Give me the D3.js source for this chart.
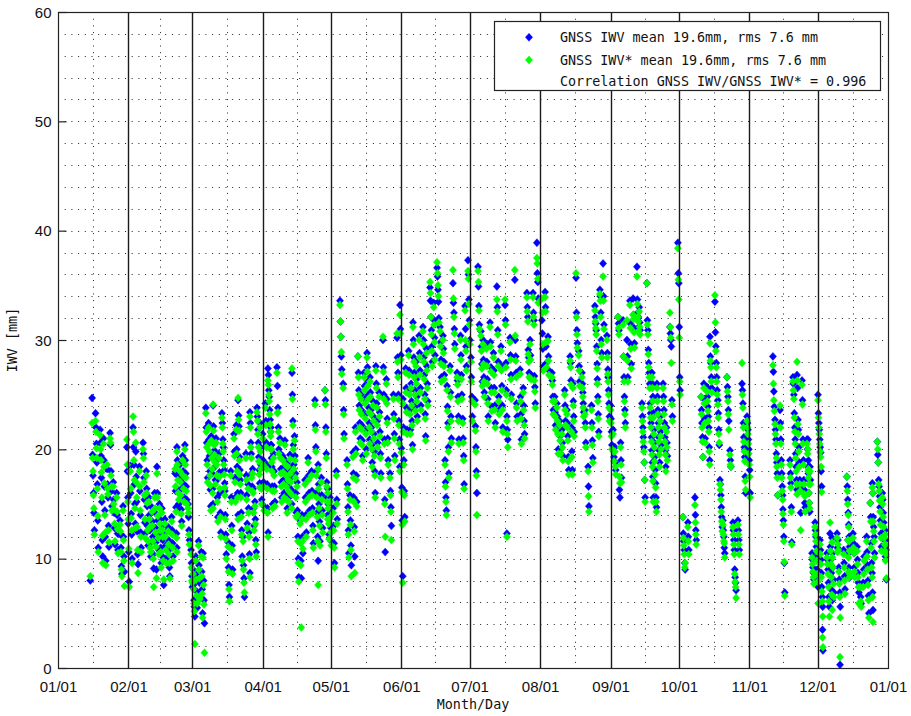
<!DOCTYPE html>
<html>
<head>
<meta charset="utf-8">
<script src="https://cdn.jsdelivr.net/npm/d3@7"></script>
<style>
  html, body { margin: 0; padding: 0; background: #fff; }
  svg { display: block; }
  .tick-label { font-family: "Liberation Sans", Arial, sans-serif; font-size: 15px; fill: #111; }
  .mono { font-family: "DejaVu Sans Mono", "Liberation Mono", monospace; font-size: 13.4px; fill: #111; }
</style>
</head>
<body>
<svg id="chart" width="911" height="716"></svg>
<script>
// Start of each run of consecutive epochs, as day of year (0 = Jan 1)
const obsDay = [
  14.2, 15.0, 16.5, 18.5, 20.0, 21.6, 22.9, 24.3, 25.8, 27.3, 28.6, 30.3,
  31.8, 33.0, 34.2, 35.8, 37.4, 38.8, 40.0, 41.3, 42.5, 43.5, 44.6, 45.7, 47.0, 48.4, 50.0, 51.5, 52.3, 53.6, 54.8, 55.8, 57.2,
  58.5, 59.4, 60.6, 61.8, 63.0, 63.8, 65.0, 66.2, 67.4, 68.2, 69.5, 70.8, 72.1, 73.4, 74.8, 76.0, 77.4, 78.4, 79.2, 80.4, 81.4, 82.6, 83.6, 84.4, 85.6, 86.6, 87.5, 88.8, 90.0,
  91.2, 92.3, 93.6, 94.8, 96.3, 97.6, 98.8, 99.8, 101.0, 102.0, 102.9, 104.0, 105.1, 106.4, 107.3, 108.6, 110.0, 111.5, 113.0, 114.4, 115.8, 117.4, 118.6, 119.6,
  121.0, 122.4, 124.0, 125.4, 127.1, 128.4, 129.7, 130.8, 131.9, 133.2, 134.6, 135.9, 137.2, 138.5, 139.8, 141.2, 142.9, 144.4, 146.0, 147.5, 149.1, 150.4,
  151.7, 152.9, 154.2, 155.3, 156.1, 157.4, 158.8, 160.5, 162.0, 163.6, 165.2, 166.7, 168.0, 169.3, 170.2, 171.1, 172.4, 173.7, 175.5, 177.0, 178.0, 179.0, 180.3,
  181.6, 183.4, 184.7, 186.0, 186.9, 188.4, 190.0, 191.5, 193.0, 194.8, 196.6, 197.4, 198.8, 200.9, 203.2, 204.6, 206.2, 207.6, 208.9, 210.6,
  212.8, 214.2, 215.5, 217.2, 218.4, 219.4, 220.6, 221.6, 222.8, 223.8, 225.2, 226.4, 227.8, 229.0, 230.4, 231.7, 233.1, 234.6, 236.1, 237.2, 238.3, 239.7, 241.4, 241.9,
  243.0, 244.1, 244.9, 246.3, 247.4, 248.5, 250.2, 251.5, 252.9, 254.6, 255.6, 256.8, 259.0, 261.2, 263.4, 264.8, 266.1, 267.6, 269.1, 270.0,
  272.6, 274.8, 277.0, 280.1, 282.8, 284.0, 285.4, 286.7, 288.9, 290.2, 291.1, 292.4, 294.2, 295.5, 296.8, 299.0, 300.8, 303.0,
  314.4, 315.3, 317.5, 318.8, 321.9, 323.2, 325.0, 327.2, 329.4, 329.8, 330.7,
  331.6, 332.9, 334.2, 335.1, 336.2, 338.2, 339.5, 340.4, 342.6, 343.0, 343.9, 345.5, 346.9, 347.4, 349.6, 351.4, 352.8, 354.1, 355.6, 357.2, 358.1, 360.3, 362.5, 363.7
];

// Sampling interval between consecutive epochs of a run, in days
const epochStep = 0.2;

// GNSS IWV [mm], one list per run
const iwv = [
  [8.0], [24.7,19.5,17.6,16.0,14.2,12.6], [23.3,22.0,20.5,18.8,16.8,13.5,11.0], [21.8,20.6,19.4,17.4,15.2,11.7,10.2], [21.0,19.0,16.6,14.4,12.0,9.8], [18.2,16.8,15.6,13.0,11.1], [21.5,20.4,18.0,16.2,14.8], [17.0,15.4,14.2,12.8,11.3], [16.0,14.0,12.3,10.8], [13.5,12.2,11.0,9.3,8.6], [14.8,12.0,10.2,8.8], [20.2,18.0,15.6,13.2,10.6,7.9],
  [18.5,16.0,14.1,12.2,10.0], [22.0,20.2,18.6,16.8,15.0,13.2], [19.8,17.5,15.2,12.5,10.4,9.5], [18.4,16.2,14.0,12.4,11.0], [20.6,19.6,17.4,15.4,13.3,12.3], [18.0,16.4,14.8,13.0,11.2], [15.6,14.0,12.6,11.4,10.2], [14.7,13.4,12.0,10.4,9.1], [16.0,14.2,12.8,11.5,9.0], [18.4,16.0,13.5,12.3,10.8], [15.0,13.6,12.2,11.0,9.6], [14.6,13.0,11.7,10.1,7.6], [13.6,12.4,11.2,10.0], [12.9,11.7,10.8,9.2,8.4], [13.8,12.6,11.4,10.2], [17.8,16.2,14.7,12.3,11.0], [20.2,19.0,17.6,16.3,15.0], [18.6,17.2,16.3,14.5,13.4], [19.4,18.0,16.8,15.6], [20.4,19.0,17.8,16.6,15.4], [15.0,13.8,12.6,11.7],
  [10.8,9.6,8.4,7.4], [9.0,7.6,6.2,5.6,4.7], [10.2,8.5,7.0,5.5], [11.6,9.4,7.8,6.6], [10.6,8.8,7.2,5.0], [10.5,8.0,6.2,4.1], [23.8,22.0,20.6,19.0,17.4], [22.4,20.9,19.4,18.0,16.3,14.8], [21.2,19.6,17.8,16.4,15.0], [24.0,22.1,20.8,19.9,18.4,17.2], [21.0,19.0,17.2,15.6,13.8], [19.6,17.9,16.0,14.2,12.4], [23.3,22.4,20.9,20.2,19.0,18.1,16.9], [16.2,14.0,12.2,10.4], [11.5,9.2,7.6,6.5], [18.0,15.6,13.0,11.2,9.0], [21.4,19.8,17.4,15.6], [22.2,20.0,18.4,16.0,14.0], [24.5,23.1,22.1,19.3,18.1,17.2], [16.0,14.2,12.6,10.2], [12.0,9.4,8.2,6.5], [19.6,17.6,15.8,13.2], [16.8,14.6,12.4,10.4,8.7], [23.4,22.4,20.6,19.6,17.8,16.6], [18.2,16.4,14.6,13.0], [15.2,13.6,11.7,10.6], [23.8,23.0,21.8,20.6,19.3,18.1,16.9], [22.4,20.2,18.6,16.8,15.4], [21.4,19.0,17.0,14.8],
  [24.2,22.6,20.6,18.6,16.8,14.6,12.4], [27.4,26.8,25.4,24.8,23.6,22.7,21.6,20.4,19.2], [22.0,20.4,18.4,16.6,15.0], [19.6,18.0,16.6,15.2], [27.5,25.8,23.8,22.0,20.0], [21.0,19.6,18.2,17.0,15.6], [19.4,18.3,17.2,16.0], [20.8,19.0,18.0,17.0,15.8,14.6], [18.8,17.6,16.6,15.6], [19.5,18.2,17.4,16.3,15.0], [27.0,25.0,22.6,20.4,18.6], [21.2,19.4,17.8,16.0,14.2], [17.0,14.4,12.0,10.0,8.3], [13.6,11.8,9.8,8.2], [14.0,12.0,10.5], [17.2,15.6,14.0,12.4], [19.2,17.6,16.0,14.4], [18.0,16.2,14.6,13.0,11.4], [24.5,22.2,20.2,18.0,16.0,14.2,12.0,9.8], [18.6,16.8,15.0,13.4,11.6], [17.4,15.8,14.4,12.8], [25.4,24.5,22.0,19.6,17.0,15.6,14.0], [16.4,15.0,13.6,12.2], [15.6,14.2,12.8,11.6],
  [14.6,13.0,11.4,9.6], [18.0,15.4,13.6], [33.6,31.7,30.3,28.5,27.3], [26.0,23.6,21.4], [19.0,16.8,14.7,12.6,10.5], [15.8,13.5,11.2,9.4], [19.7,17.8,15.6,12.9,10.2], [22.0,20.0,17.6,15.2], [28.5,27.0,25.4,24.0,22.4,21.0], [25.0,23.6,22.2,20.8,19.4], [27.0,25.8,24.6,23.2,21.8,20.0], [28.8,27.5,26.2,25.0,23.8,22.4,20.9], [26.6,25.2,23.6,22.0,20.4,18.8], [24.4,23.0,21.4,19.8,18.0,16.0], [27.6,26.0,24.2,22.6,20.6], [25.2,23.4,21.6,19.6,17.8], [30.0,27.5,25.0,20.9,15.4,10.6], [26.4,24.6,22.8,21.0,19.0], [17.8,16.2,14.7,13.0], [25.0,23.2,21.4,19.4], [30.2,28.4,27.0,25.0,22.6,20.9,18.4], [33.2,31.0,28.6,20.1,16.5,13.5,8.4],
  [24.6,22.0,19.0,16.2,13.8], [27.4,25.6,23.8,21.8], [29.0,27.2,25.4,23.6,21.8], [26.0,24.4,22.6,20.4], [31.6,30.0,28.4,27.0,25.4,23.9], [28.0,26.4,24.8,23.0], [30.4,28.8,27.2,25.6,24.0], [31.2,30.0,28.4,26.8,25.0,23.2,21.2], [29.2,27.6,26.0,24.4], [34.8,33.6,32.1,30.9,29.4,28.0], [33.4,31.8,30.2,28.6], [36.6,35.8,34.6,33.5,32.0], [31.2,29.8,28.2,26.6], [30.4,29.2,28.0,26.8], [19.0,17.0,15.6,14.4], [25.8,23.9,22.4,20.2,17.8], [27.6,25.2,23.0,21.0], [35.2,33.4,32.5,31.0,29.6], [27.0,26.3,24.8,23.0,20.9], [30.4,28.6,26.8,25.0], [22.8,21.0,19.4,16.8], [33.1,31.0,29.4,27.6], [37.3,36.0,33.7,31.8,30.0],
  [28.4,26.6,24.8,23.0], [24.5,22.1,20.2,18.0,16.0], [36.7,34.9,33.1,31.4], [30.8,29.4,27.8,26.2], [30.0,28.2,26.6,25.2], [29.6,28.0,26.4,24.6,23.0], [31.6,29.8,27.5,25.6,23.9], [28.8,27.2,25.6,24.0,22.4], [34.9,33.0,30.9,28.0,24.8,23.6], [29.4,27.6,25.8,24.0,22.0], [33.2,31.8,27.9,25.4,23.0,21.8,20.9], [12.3], [30.2,28.6,26.8,25.0], [35.5,30.0,28.5,27.0,24.2,23.0], [27.3,24.8,23.2,20.9], [25.6,24.0,22.6,21.4], [34.3,33.0,32.1,29.1,28.4,27.0], [30.0,28.6,26.8], [34.3,32.5,31.8,26.7,25.7,24.2], [38.9,36.1,35.3,33.8],
  [31.8,30.6,29.2,27.6], [34.4,33.0,29.4,27.9], [30.3,28.5,27.2], [27.0,26.3,24.8,23.6], [24.8,23.4,22.2], [24.2,23.0,21.8,20.0], [22.6,21.2,20.0], [21.8,20.6,19.4], [25.4,24.0,22.6], [23.6,22.4,21.2,19.3,18.1], [28.5,27.9,26.3,22.0,19.8,18.1], [26.0,24.4,23.0,21.6], [35.7,32.5,30.9,29.7], [29.0,27.6,26.2], [27.0,26.0,25.2,24.2,23.4], [23.6,22.4,20.6], [18.4,16.6,14.8], [24.0,22.4,20.8,19.2], [33.1,32.1,31.5,30.9,29.4,27.8], [26.4,24.8,23.2,21.6], [34.6,34.0,32.5,30.0,28.8], [37.0,34.0,31.4], [30.4,28.8,27.3], [26.6,25.4,24.2,23.0],
  [24.0,22.8,21.6,20.4], [21.8,20.2,19.3], [20.2,18.8,18.1], [32.1,31.5,30.9,16.3,15.6], [20.6,19.0,17.4], [31.8,28.5,26.6,24.8,23.6,22.4], [30.0,28.5,26.6], [33.6,31.5,29.6,27.8], [33.8,32.3,31.1,29.7], [36.7,33.7,32.5,32.1,31.2], [33.0,31.6,30.9], [24.2,23.0,22.0,21.1,20.2,18.8,17.2,15.6], [35.2,31.8,30.9,29.1,27.9,27.0,26.0,24.2,23.3,22.4,21.1,19.9,18.8,17.5,15.6], [27.0,26.0,24.8,23.3,21.8,20.6,19.3,18.1,16.9,15.6,14.7], [26.0,24.8,23.6,22.4,21.1,19.9,18.8], [23.0,21.6,20.4], [26.0,24.8,23.6,22.4,21.1,19.9,18.4], [22.0,20.6,19.4], [31.2,30.6,30.0,29.4], [24.5,23.0],
  [38.9,36.1,35.2,31.2,26.6,25.4], [13.8,12.3,11.6,10.8,9.6,9.0], [13.3,12.0,10.8], [15.6,14.0,12.6,11.7], [24.8,23.6,22.4,21.1,19.3], [26.0,24.6,22.8,21.0], [25.7,24.8,23.9,23.0,22.0,20.2,19.0], [30.3,28.5,27.9,26.6,25.6], [33.5,30.7,29.4,27.9,26.6,25.4], [24.5,23.3,21.8,20.4], [17.2,16.8,15.8,14.7,13.8,12.9], [13.5,12.6,12.0,11.0,10.5], [26.6,25.7,24.8,23.6,22.6], [19.9,19.0,18.4], [13.3,12.6,11.7,10.8,9.0,8.3,7.8,7.1], [13.5,12.6,11.7,10.8], [26.0,25.4,24.2,22.4,21.1,20.2,19.3,17.5,16.0], [23.0,22.4,21.8,20.9,20.0,19.0,18.1,16.0],
  [28.5,27.1,25.3,23.9], [22.7,21.8,20.9,19.6,18.8,17.8,15.8], [23.6,22.4,20.9,19.0,17.8,16.6,15.8], [14.5,13.5,12.0,9.6,6.9], [19.0,17.8,16.9,14.7,11.5], [26.6,26.0,25.0,23.3,22.0,20.9,19.6,18.4,17.2,16.3], [26.8,25.6,22.7,21.8,20.2,18.8,17.2,16.6,14.2], [26.3,24.5,20.9,19.0,17.2,16.3,15.1,14.7], [20.9,20.0,18.4,17.8,17.2], [20.9,19.0,16.0,15.1,14.3], [18.4,17.2],
  [10.5,9.9,9.2,8.7,8.1], [13.3,12.6,12.0,11.1,10.2,9.0,8.3,7.4], [25.0,23.3,22.4,21.8,20.9,20.2,19.7,18.0,16.6], [11.7,10.8,9.9,8.7,7.4,6.5,5.6], [3.5,1.6], [10.5,9.9,9.0,7.8,6.5,5.6], [12.3,11.1,9.9,8.7,7.1,6.2], [11.9,10.5,9.2,8.1,6.9], [12.3,11.0], [11.7,10.8,9.2,8.1,6.9,5.6], [0.3], [10.8,9.6,8.4,7.2], [17.5,16.6,15.4,14.2,13.1,12.0,11.1], [11.7,10.5,9.2,8.7,8.3], [12.3,11.4,10.5,9.2,8.7], [11.1,9.9,8.7,7.8,6.9], [7.4,6.5,5.9], [7.8,9.0,10.2], [12.0,10.6,9.4,8.0,6.6,5.0], [15.1,13.8,11.4,9.6,8.7,6.9,5.3], [16.9,16.0,13.8,12.9,12.0,10.5], [20.7,19.5,18.8,17.2,16.6,15.7,14.7,13.5,12.3,11.1], [16.0,15.4,14.2,13.3,12.3,11.7,11.1,10.2], [12.6,11.7,10.8,8.1]
];

// GNSS IWV* [mm], one list per run
const iwvStar = [
  [8.4], [22.4,19.2,18.0,15.8,14.6,12.2], [22.6,21.6,20.1,19.2,16.4,13.9,10.6], [21.3,20.0,19.0,17.9,15.6,12.1,9.6], [20.5,18.4,16.9,14.0,12.4,9.4], [18.6,16.4,15.9,12.6,11.5], [21.0,20.6,17.6,16.6,14.4], [16.6,15.0,14.5,13.2,11.6], [15.6,14.3,12.7,10.5], [13.1,12.5,10.6,9.0,8.4], [14.4,11.7,9.8,7.5], [20.9,18.6,15.2,13.6,10.9,7.4],
  [18.0,16.4,13.7,12.6,9.6], [23.0,21.6,19.0,17.2,14.6,12.8], [20.6,17.0,15.6,12.9,10.8,8.7], [18.0,16.6,14.4,12.0,10.6], [20.0,19.2,17.0,15.8,13.6,11.9], [17.6,16.0,15.1,12.6,11.6], [15.2,13.6,12.9,11.0,10.6], [14.3,13.0,11.6,10.0,7.4], [15.6,14.6,12.4,11.1,8.2], [17.8,15.6,13.9,11.9,10.4], [14.6,13.2,12.6,10.6,9.2], [14.2,12.6,12.0,9.8,8.1], [13.2,12.0,10.8,9.6], [12.5,11.3,10.4,9.6,8.2], [13.4,12.2,11.0,9.8], [18.2,16.6,14.3,11.9,10.6], [19.8,18.6,17.2,16.0,15.4], [18.0,17.0,15.8,14.1,13.0], [19.0,17.6,16.4,15.2], [20.0,18.6,17.4,16.2,15.0], [14.6,14.2,12.2,11.3],
  [10.4,9.2,8.0,7.8], [8.6,7.2,5.9,5.2,2.2], [9.8,8.1,6.6,5.9], [11.2,9.0,8.2,6.3], [10.2,8.4,6.8,4.6], [10.1,7.6,5.8,1.4], [23.3,21.6,20.2,18.6,17.0], [22.0,20.5,19.8,17.6,16.7,14.4], [20.8,19.2,18.2,16.0,14.6], [24.1,21.7,20.4,19.5,18.8,16.8], [20.6,18.6,17.6,15.2,13.4], [19.2,17.5,16.4,13.8,12.0], [22.9,22.0,20.5,19.8,18.6,17.7,16.5], [15.8,13.6,11.8,10.0], [11.1,8.8,7.2,6.1], [17.6,15.2,12.6,10.8,8.6], [21.0,19.4,17.0,15.2], [21.8,19.6,18.0,15.6,13.6], [24.7,22.7,21.7,19.0,17.7,16.8], [15.6,13.8,12.2,9.8], [11.6,9.0,7.8,6.9], [19.2,17.2,15.4,12.8], [16.4,14.2,12.0,10.0,8.3], [23.0,22.0,20.2,19.2,17.4,16.2], [17.8,16.0,14.2,12.6], [14.8,13.2,11.3,10.2], [23.4,22.6,21.4,20.2,18.9,17.7,16.5], [22.0,19.8,18.2,16.4,15.0], [21.0,18.6,16.6,14.4],
  [23.8,22.2,20.2,18.2,16.4,14.2,12.0], [26.3,25.9,25.0,24.4,23.2,22.3,21.2,20.0,18.8], [21.6,20.0,18.0,16.2,14.6], [19.2,17.6,16.2,14.8], [27.0,23.3,23.4,21.6,19.6], [20.6,19.2,17.8,16.6,15.2], [19.0,17.9,16.8,15.6], [20.4,18.6,17.6,16.6,15.4,14.2], [18.4,17.2,16.2,15.2], [19.1,17.8,17.0,15.9,14.6], [27.4,24.6,22.2,20.0,18.2], [20.8,19.0,17.4,15.6,13.8], [16.6,14.0,11.6,9.6,7.9], [13.2,11.4,9.4,3.7], [13.6,11.6,10.9], [16.8,15.2,13.6,12.0], [18.8,17.2,15.6,14.0], [17.6,15.8,14.2,12.6,11.0], [24.1,21.8,19.8,17.6,15.6,13.8,11.6,7.6], [18.2,16.4,14.6,13.0,11.2], [17.0,15.4,14.0,12.4], [25.4,24.1,21.6,19.2,16.6,15.2,13.6], [16.0,14.6,13.2,11.8], [15.2,13.8,12.4,11.2],
  [14.2,12.6,11.0,9.2], [17.6,15.0,13.2], [33.2,31.7,30.3,28.9,26.9], [25.6,23.2,21.0], [18.6,16.4,14.3,12.2,10.1], [15.4,13.1,10.8,8.4], [19.3,17.4,15.2,12.5,8.7], [21.6,19.6,17.2,14.8], [28.5,26.6,25.0,23.6,22.0,20.6], [24.6,23.2,21.8,20.4,19.0], [26.6,25.4,24.2,22.8,21.4,19.6], [28.4,27.1,25.8,24.6,23.4,22.0,20.5], [26.2,24.8,23.2,21.6,20.0,18.4], [24.0,22.6,21.0,19.4,17.6,15.6], [27.2,25.6,23.8,22.2,20.2], [24.8,23.0,21.2,19.2,17.4], [30.3,27.1,24.6,20.5,15.0,12.0], [26.0,24.2,22.4,20.6,18.6], [17.4,15.8,14.3,11.7], [24.6,22.8,21.0,19.0], [30.6,28.0,26.6,24.6,22.2,20.5,18.0], [32.3,30.6,28.2,19.7,16.1,13.1,7.8],
  [24.2,21.6,18.6,15.8,13.4], [27.0,25.2,23.4,21.4], [28.6,26.8,25.0,23.2,21.4], [25.6,24.0,22.2,20.0], [31.2,29.6,28.0,26.6,25.0,23.5], [27.6,26.0,24.4,22.6], [30.0,28.4,26.8,25.2,23.6], [30.8,29.6,28.0,26.4,24.6,22.8,20.8], [28.8,27.2,25.6,24.0], [35.3,34.3,32.1,30.5,29.0,27.6], [33.0,31.4,29.8,28.2], [37.1,36.1,35.0,34.0,31.6], [30.8,29.4,27.8,26.2], [30.0,28.8,27.6,26.4], [18.6,16.6,15.2,14.0], [25.4,23.5,22.0,19.8,17.4], [27.2,24.8,22.6,20.6], [36.4,33.8,32.1,30.6,29.2], [26.6,25.9,24.4,22.6,20.5], [30.0,28.2,26.4,24.6], [22.4,20.6,19.0,16.4], [32.7,30.0,29.0,27.2], [36.3,35.6,33.3,31.4,29.6],
  [28.0,26.2,24.4,22.6], [24.1,21.7,19.8,17.6,14.0], [36.3,35.3,32.7,31.0], [30.4,29.0,27.4,25.8], [29.6,27.8,26.2,24.8], [29.2,27.6,26.0,24.2,22.6], [31.2,29.4,27.1,25.2,23.5], [28.4,26.8,25.2,23.6,22.0], [33.7,32.6,30.5,27.6,24.4,23.2], [29.0,27.2,25.4,23.6,21.6], [33.7,31.4,27.5,25.0,22.6,21.4,20.2], [12.0], [29.8,28.2,26.4,24.6], [36.4,30.4,28.1,26.6,23.8,22.6], [26.9,24.4,22.8,20.5], [25.2,23.6,22.2,21.0], [33.9,32.6,31.7,28.7,28.0,26.6], [29.6,28.2,26.4], [33.9,32.1,31.4,26.3,25.3,23.8], [37.5,37.0,35.6,33.4],
  [33.8,32.5,29.6,27.2], [33.9,32.6,29.8,27.5], [29.9,28.1,26.8], [26.6,25.9,24.4,23.2], [24.4,23.0,21.8], [23.8,22.6,21.4,19.6], [22.2,20.8,19.6], [21.4,20.2,19.0], [25.0,23.6,22.2], [23.2,22.0,20.8,18.9,17.7], [28.1,27.5,25.9,21.6,19.3,17.7], [25.6,24.0,22.6,21.2], [36.1,32.1,30.5,29.3], [28.6,27.2,25.8], [26.6,25.6,24.8,23.8,23.0], [23.2,22.0,20.2], [18.0,15.7,14.3], [23.6,22.0,20.4,18.8], [32.7,31.7,31.1,30.5,29.0,27.4], [26.0,24.4,22.8,21.2], [34.2,33.6,32.1,29.6,28.4], [35.8,33.6,31.0], [30.0,28.4,26.9], [26.2,25.0,23.8,22.6],
  [23.6,22.4,21.2,20.0], [21.4,19.8,18.9], [19.8,18.4,17.7], [32.1,31.1,30.5,17.5,16.9], [20.2,18.6,17.0], [31.4,28.5,26.2,24.4,23.2,22.0], [31.8,28.1,26.2], [33.2,31.1,29.2,27.4], [32.3,31.9,30.7,29.3], [35.8,33.3,32.1,31.7,30.8], [32.6,31.2,30.5], [23.8,22.6,21.6,20.7,19.8,18.8,17.2,15.2], [35.2,31.4,30.5,28.7,27.5,26.6,25.6,23.8,22.9,22.0,20.7,19.5,18.4,17.1,15.2], [26.6,25.6,24.4,22.9,21.4,20.2,18.9,17.7,16.5,15.2,14.3], [25.6,24.4,23.2,22.0,20.7,19.5,18.4], [22.6,21.2,20.0], [25.6,24.4,23.2,22.0,20.7,19.5,18.0], [21.6,20.2,19.0], [32.5,31.2,30.2,27.9], [24.1,22.6],
  [38.4,35.5,33.7,30.2,26.2,25.0], [13.8,11.9,11.2,10.4,9.2,9.6], [12.9,11.6,10.4], [14.9,13.3,12.2,11.3], [24.8,23.2,22.0,20.7,19.3], [25.6,24.2,22.4,20.6], [25.3,24.4,23.5,22.6,21.6,19.8,18.6], [29.7,28.1,27.5,26.2,25.2], [34.1,31.6,29.0,27.5,26.2,25.0], [24.1,22.9,21.4,20.6], [16.8,16.3,15.4,14.3,13.4,12.5], [13.1,12.2,11.6,11.4,10.1], [26.6,25.3,24.4,23.2,21.8], [19.5,18.6,18.4], [12.9,12.2,11.3,10.4,8.6,7.9,7.4,6.4], [13.1,12.2,11.3,10.4], [27.9,25.0,23.8,22.0,20.7,19.8,18.9,17.1,16.3], [22.6,22.0,21.4,20.5,19.6,18.6,17.5,15.6],
  [27.7,26.0,24.5,23.5], [22.3,21.4,20.5,19.2,18.4,17.4,15.8], [24.0,22.0,20.5,18.6,17.4,16.2,15.4], [14.1,13.1,11.6,9.7,6.6], [18.6,17.4,16.5,14.3,11.3], [26.2,25.4,24.6,22.9,21.6,20.5,19.2,18.0,16.8,15.9], [28.0,26.3,22.3,21.4,19.8,18.4,16.8,16.2,12.6], [25.9,24.1,20.5,18.6,16.8,15.9,15.7,14.3], [20.5,19.6,18.0,17.4,16.8], [20.0,18.2,16.0,15.1,14.6], [18.0,16.8],
  [10.1,9.5,8.8,8.3,7.7], [12.9,12.2,11.6,10.7,9.8,8.6,7.9,5.9], [24.5,22.9,22.0,21.4,20.5,19.8,19.3,18.4,16.1], [11.3,10.4,9.5,8.3,7.0,6.1,4.7], [2.8,1.9], [10.1,9.5,8.6,7.4,6.1,4.7], [13.3,10.7,9.5,8.3,6.7,5.3], [11.5,10.1,9.2,7.7,6.5], [11.9,10.6], [11.3,10.8,8.8,7.7,6.5,4.6], [1.0], [10.4,9.2,8.0,6.8], [17.5,16.2,15.0,14.0,12.9,11.6,10.7], [11.7,10.1,8.8,8.3,8.6], [11.9,11.0,10.5,8.8,8.3], [10.7,9.5,8.3,7.4,5.9], [7.4,6.1,5.6], [7.4,8.6,9.8], [11.6,10.2,9.0,7.6,6.2,4.6], [15.1,13.4,11.0,9.2,8.3,6.5,4.2], [16.5,16.0,13.4,12.5,11.6,10.1], [20.7,20.0,18.8,16.8,16.2,15.3,14.3,13.1,11.9,10.7], [15.6,15.0,13.8,12.9,11.9,11.3,10.7,9.8], [12.2,11.3,10.4,8.2]
];

const yTicks = [0, 10, 20, 30, 40, 50, 60];
const legendLines = [
  "GNSS IWV mean 19.6mm, rms 7.6 mm",
  "GNSS IWV* mean 19.6mm, rms 7.6 mm",
  "Correlation GNSS IWV/GNSS IWV* = 0.996"
];
const seriesColors = ["#0000ff", "#00ff00"];

const svg = d3.select("#chart");
const plot = { left: 58, right: 888, top: 12, bottom: 668 };

const yearStart = new Date(Date.UTC(2015, 0, 1));
const yearEnd = new Date(Date.UTC(2016, 0, 1));
const x = d3.scaleUtc().domain([yearStart, yearEnd]).range([plot.left, plot.right]);
const y = d3.scaleLinear().domain([0, 60]).range([plot.bottom, plot.top]);

const dayToDate = d => new Date(yearStart.getTime() + d * 86400000);

// flatten each run into timestamped points
function buildPoints(values) {
  const pts = [];
  obsDay.forEach((d, i) => {
    (values[i] || []).forEach((v, k) => pts.push({ t: dayToDate(d + k * epochStep), v }));
  });
  return pts;
}
const bluePts = buildPoints(iwv);
const greenPts = buildPoints(iwvStar);

svg.append("rect").attr("width", 911).attr("height", 716).attr("fill", "#fff");

const monthTicks = d3.utcMonth.range(yearStart, d3.utcDay.offset(yearEnd, 1));
const midTicks = d3.pairs(monthTicks).map(([a, b]) => new Date((a.getTime() + b.getTime()) / 2));

const grid = svg.append("g");
// dotted horizontal grid every 2 mm
grid.selectAll("line.hg")
  .data(d3.range(2, 60, 2))
  .join("line")
  .attr("x1", plot.left).attr("x2", plot.right)
  .attr("y1", d => Math.round(y(d)) + 0.5).attr("y2", d => Math.round(y(d)) + 0.5)
  .attr("stroke", "#222").attr("stroke-width", 1)
  .attr("stroke-dasharray", "1,5.7");
// dotted vertical grid halfway through each month
grid.selectAll("line.vg")
  .data(midTicks)
  .join("line")
  .attr("x1", d => Math.round(x(d)) + 0.5).attr("x2", d => Math.round(x(d)) + 0.5)
  .attr("y1", plot.top).attr("y2", plot.bottom)
  .attr("stroke", "#222").attr("stroke-width", 1)
  .attr("stroke-dasharray", "1,5.7");

// diamond marker
const diamond = "M0,-4L3.6,0L0,4L-3.6,0Z";

function drawSeries(points, color) {
  svg.append("g")
    .selectAll("path")
    .data(points)
    .join("path")
    .attr("d", diamond)
    .attr("transform", p => `translate(${x(p.t)},${y(p.v)})`)
    .attr("fill", color)
    .attr("stroke", color)
    .attr("stroke-opacity", 0.55)
    .attr("stroke-width", 0.8);
}
drawSeries(bluePts, seriesColors[0]);
drawSeries(greenPts, seriesColors[1]);

// solid month separators
svg.append("g")
  .selectAll("line")
  .data(monthTicks.slice(1, -1))
  .join("line")
  .attr("x1", d => Math.round(x(d)) + 0.5).attr("x2", d => Math.round(x(d)) + 0.5)
  .attr("y1", plot.top).attr("y2", plot.bottom)
  .attr("stroke", "#1a1a1a").attr("stroke-width", 1.4);

// frame
svg.append("rect")
  .attr("x", plot.left + 0.5).attr("y", plot.top + 0.5)
  .attr("width", plot.right - plot.left).attr("height", plot.bottom - plot.top)
  .attr("fill", "none").attr("stroke", "#222").attr("stroke-width", 1.2);

// y axis
const yAxis = d3.axisLeft(y).tickValues(yTicks).tickSize(-8).tickPadding(16).tickFormat(d3.format("d"));
const yg = svg.append("g").attr("transform", `translate(${plot.left + 0.5},0)`).call(yAxis);
yg.select(".domain").remove();
yg.selectAll(".tick line").attr("stroke", "#222").attr("stroke-width", 1.2);
yg.selectAll(".tick text").attr("class", "tick-label").attr("x", -7).attr("dy", "0.35em");

// x axis
const xAxis = d3.axisBottom(x).tickValues(monthTicks).tickSize(0).tickPadding(10).tickFormat(d3.utcFormat("%m/%d"));
const xg = svg.append("g").attr("transform", `translate(0,${plot.bottom})`).call(xAxis);
xg.select(".domain").remove();
xg.selectAll(".tick text").attr("class", "tick-label").attr("dy", "0.9em");

// axis titles
svg.append("text").attr("class", "mono")
  .attr("x", (plot.left + plot.right) / 2).attr("y", 709)
  .attr("text-anchor", "middle").text("Month/Day");
svg.append("text").attr("class", "mono")
  .attr("transform", `translate(17,${(plot.top + plot.bottom) / 2}) rotate(-90)`)
  .attr("text-anchor", "middle").text("IWV [mm]");

// legend
const legend = svg.append("g");
legend.append("rect")
  .attr("x", 494.5).attr("y", 21.5).attr("width", 386).attr("height", 69)
  .attr("fill", "#fff").attr("stroke", "#222").attr("stroke-width", 1.2);
const rowY = [37.3, 60, 80.7];
seriesColors.forEach((c, i) => {
  legend.append("path").attr("d", diamond)
    .attr("transform", `translate(529,${rowY[i]})`)
    .attr("fill", c).attr("stroke", c).attr("stroke-opacity", 0.55).attr("stroke-width", 0.8);
});
legendLines.forEach((t, i) => {
  legend.append("text").attr("class", "mono")
    .attr("x", 560).attr("y", rowY[i]).attr("dy", "0.36em").text(t);
});
</script>
</body>
</html>
